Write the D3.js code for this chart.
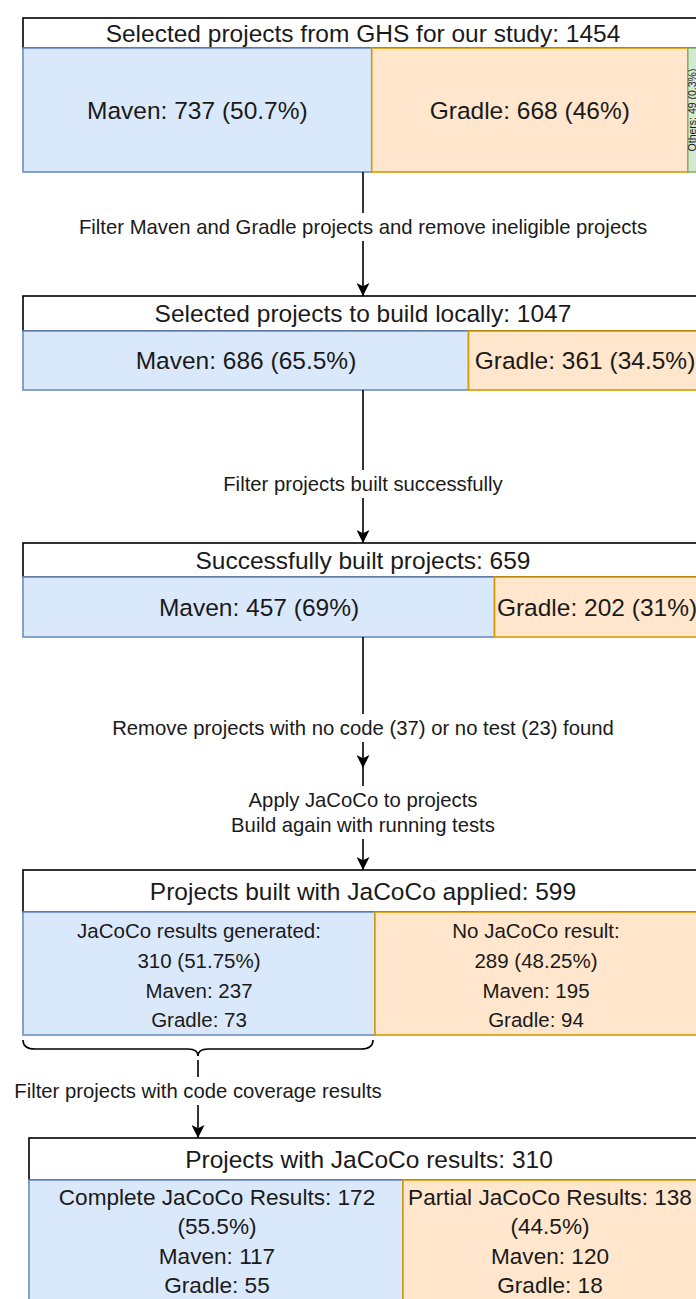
<!DOCTYPE html>
<html>
<head>
<meta charset="utf-8">
<script src="https://cdn.jsdelivr.net/npm/d3@7"></script>
<style>
  body { margin: 0; background: #fff; }
  text { font-family: "Liberation Sans", Arial, Helvetica, sans-serif; fill: #1a1a1a; }
</style>
</head>
<body>
<div id="chart"></div>
<script>
// stage titles and totals
const stageTitles = [
    'Selected projects from GHS for our study',
    'Selected projects to build locally',
    'Successfully built projects',
    'Projects built with JaCoCo applied',
    'Projects with JaCoCo results'
];
const stageTotals = [1454, 1047, 659, 599, 310];

// stage 1: build systems of GHS projects
const ghsSystems = ['Maven', 'Gradle', 'Others'];
const ghsCounts = [737, 668, 49];
const ghsShares = ['50.7%', '46%', '0.3%'];

// stage 2: projects to build locally
const localSystems = ['Maven', 'Gradle'];
const localCounts = [686, 361];
const localShares = ['65.5%', '34.5%'];

// stage 3: built successfully
const builtSystems = ['Maven', 'Gradle'];
const builtCounts = [457, 202];
const builtShares = ['69%', '31%'];

// stage 4: JaCoCo applied
const jacocoLabels = ['JaCoCo results generated:', 'No JaCoCo result:'];
const jacocoCounts = [310, 289];
const jacocoShares = ['51.75%', '48.25%'];
const jacocoMaven = [237, 195];
const jacocoGradle = [73, 94];

// stage 5: JaCoCo results
const resultLabels = ['Complete JaCoCo Results', 'Partial JaCoCo Results'];
const resultCounts = [172, 138];
const resultShares = ['55.5%', '44.5%'];
const resultMaven = [117, 120];
const resultGradle = [55, 18];

// arrow labels between the stages
const stepLabels = [
    ['Filter Maven and Gradle projects and remove ineligible projects'],
    ['Filter projects built successfully'],
    ['Remove projects with no code (37) or no test (23) found'],
    ['Apply JaCoCo to projects', 'Build again with running tests'],
    ['Filter projects with code coverage results']
];

const W = 696, H = 1299;
const colors = {
    fill: ['#dae8fc', '#ffe6cc', '#d5e8d4'],
    stroke: ['#6c8ebf', '#d79b00', '#82b366']
};

let svg = d3.select('#chart').append('svg')
    .attr('width', W).attr('height', H)
    .attr('viewBox', `0 0 ${W} ${H}`);

svg.append('defs').append('marker')
    .attr('id', 'arrow')
    .attr('viewBox', '0 0 12 12')
    .attr('refX', 12).attr('refY', 6)
    .attr('markerWidth', 13).attr('markerHeight', 13)
    .attr('markerUnits', 'userSpaceOnUse')
    .attr('orient', 'auto')
    .append('path')
    .attr('d', 'M0,0 L12,6 L0,12 L3,6 Z')
    .attr('fill', '#000');

// box geometry (x, top, title bottom, bottom, full width)
let boxes = [
    {x: 23, top: 18,   mid: 48,   bottom: 172,  w: 688},
    {x: 23, top: 296,  mid: 331,  bottom: 390,  w: 680},
    {x: 23, top: 543,  mid: 577,  bottom: 637,  w: 680},
    {x: 23, top: 870,  mid: 912,  bottom: 1035, w: 680},
    {x: 29, top: 1138, mid: 1180, bottom: 1312, w: 674}
];

function drawStage(i, counts, lines, opts) {
    opts = opts || {};
    let b = boxes[i];
    let g = svg.append('g');
    let total = d3.sum(counts);
    let x = d3.scaleLinear().domain([0, total]).range([b.x, b.x + b.w]);
    let starts = d3.cumsum([0].concat(counts));
    let lh = opts.lh || 0;

    // title band
    g.append('rect')
        .attr('x', b.x).attr('y', b.top)
        .attr('width', W + 40 - b.x).attr('height', b.mid - b.top)
        .attr('fill', '#fff').attr('stroke', '#000').attr('stroke-width', 1.6);
    g.append('text')
        .attr('x', b.x + 340).attr('y', (b.top + b.mid) / 2)
        .attr('dy', '0.35em')
        .attr('text-anchor', 'middle')
        .style('font-size', '24.5px')
        .text(`${stageTitles[i]}: ${stageTotals[i]}`);

    counts.forEach((c, j) => {
        let x0 = x(starts[j]), x1 = x(starts[j + 1]);
        g.append('rect')
            .attr('x', x0).attr('y', b.mid)
            .attr('width', x1 - x0).attr('height', b.bottom - b.mid)
            .attr('fill', colors.fill[j]).attr('stroke', colors.stroke[j])
            .attr('stroke-width', 1.6);
    });

    // labels drawn after the rects so borders do not cover them
    counts.forEach((c, j) => {
        let x0 = x(starts[j]), x1 = x(starts[j + 1]);
        let cx = (x0 + x1) / 2;
        let ls = lines[j];
        if (opts.rotate && opts.rotate[j]) {
            // narrow strip runs off the page: centre on the visible part
            let vx = (x0 + Math.min(x1, W)) / 2;
            g.append('text')
                .attr('transform', `translate(${vx},${(b.mid + b.bottom) / 2}) rotate(-90)`)
                .attr('dy', '0.35em')
                .attr('text-anchor', 'middle')
                .style('font-size', '10.5px')
                .text(ls[0]);
            return;
        }
        let cxText = opts.textX ? opts.textX[j] : cx;
        let n = ls.length;
        let y0 = opts.firstY != null ? opts.firstY : (b.mid + b.bottom) / 2 - (n - 1) * lh / 2;
        ls.forEach((t, k) => {
            g.append('text')
                .attr('x', cxText).attr('y', y0 + k * lh)
                .attr('dy', '0.35em')
                .attr('text-anchor', 'middle')
                .style('font-size', opts.size || '24.5px')
                .text(t);
        });
    });
}

function drawArrow(x, y0, y1, labels, labelY, gap) {
    svg.append('line')
        .attr('x1', x).attr('x2', x)
        .attr('y1', y0).attr('y2', y1)
        .attr('stroke', '#000').attr('stroke-width', 1.6)
        .attr('marker-end', 'url(#arrow)');
    if (!labels) return;
    let lh = 25;
    let n = labels.length;
    let top = labelY - gap, bot = labelY + (n - 1) * lh + gap;
    svg.append('rect')
        .attr('x', x - 4).attr('y', top)
        .attr('width', 8).attr('height', bot - top)
        .attr('fill', '#fff');
    labels.forEach((t, k) => {
        svg.append('text')
            .attr('x', x).attr('y', labelY + k * lh)
            .attr('dy', '0.35em')
            .attr('text-anchor', 'middle')
            .style('font-size', '20.3px')
            .text(t);
    });
}

drawStage(0, ghsCounts,
    ghsSystems.map((s, j) => [`${s}: ${ghsCounts[j]} (${ghsShares[j]})`]),
    {rotate: [false, false, true]});
drawStage(1, localCounts,
    localSystems.map((s, j) => [`${s}: ${localCounts[j]} (${localShares[j]})`]),
    {textX: [246, 585]});
drawStage(2, builtCounts,
    builtSystems.map((s, j) => [`${s}: ${builtCounts[j]} (${builtShares[j]})`]),
    {textX: [259, 597]});
drawStage(3, jacocoCounts,
    jacocoLabels.map((s, j) => [s, `${jacocoCounts[j]} (${jacocoShares[j]})`,
        `Maven: ${jacocoMaven[j]}`, `Gradle: ${jacocoGradle[j]}`]),
    {size: '20.5px', lh: 29.7, firstY: 931, textX: [199, 536]});
drawStage(4, resultCounts,
    resultLabels.map((s, j) => [`${s}: ${resultCounts[j]}`, `(${resultShares[j]})`,
        `Maven: ${resultMaven[j]}`, `Gradle: ${resultGradle[j]}`]),
    {size: '22.6px', lh: 29.5, firstY: 1197, textX: [217, 550]});

// arrows between stages
drawArrow(363, boxes[0].bottom, boxes[1].top, stepLabels[0], 227, 14);
drawArrow(363, boxes[1].bottom, boxes[2].top, stepLabels[1], 484, 14);
drawArrow(363, boxes[2].bottom, 768, stepLabels[2], 728, 14);
drawArrow(363, 768, boxes[3].top, stepLabels[3], 800, 14);

// curly brace under the JaCoCo results half
let braceX0 = boxes[3].x, braceX1 = 373, braceMid = (braceX0 + braceX1) / 2;
let by = 1040;
svg.append('path')
    .attr('d', `M${braceX0},${by} Q${braceX0},${by + 9} ${braceX0 + 12},${by + 9}` +
        ` L${braceMid - 10},${by + 9} Q${braceMid},${by + 9} ${braceMid},${by + 16}` +
        ` Q${braceMid},${by + 9} ${braceMid + 10},${by + 9}` +
        ` L${braceX1 - 12},${by + 9} Q${braceX1},${by + 9} ${braceX1},${by}`)
    .attr('fill', 'none').attr('stroke', '#000').attr('stroke-width', 1.6);

drawArrow(braceMid, 1060, boxes[4].top, stepLabels[4], 1091, 14);
</script>
</body>
</html>
